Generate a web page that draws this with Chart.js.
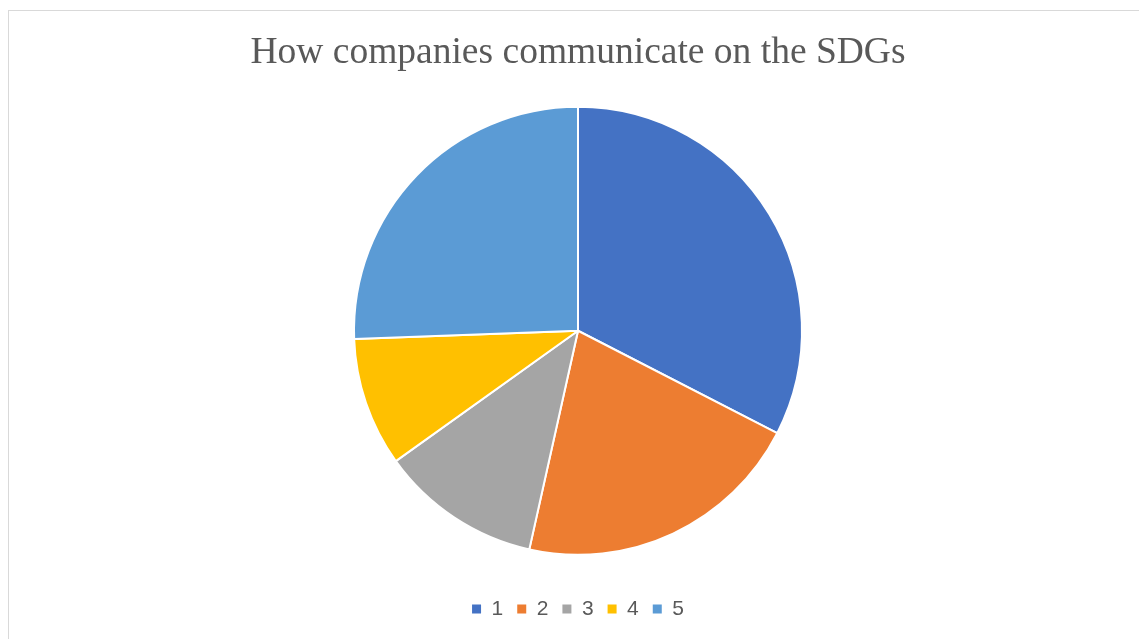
<!DOCTYPE html>
<html>
<head>
<meta charset="utf-8">
<script src="https://cdn.jsdelivr.net/npm/chart.js@4"></script>
<style>
  html, body { margin: 0; padding: 0; background: #fff; overflow: hidden; }
  #frame {
    position: absolute; left: 8px; top: 10px;
    width: 1135px; height: 633px;
    border: 1px solid #d9d9d9; box-sizing: border-box;
  }
  #wrap { position: absolute; left: 0; top: 0; width: 1133px; height: 631px; }
</style>
</head>
<body>
<div id="frame"><div id="wrap"><canvas id="chart-pie"></canvas></div></div>
<script>
const categories = ['1', '2', '3', '4', '5'];
const values     = [14, 9, 5, 4, 11];
const sliceColors = ['#4472C4', '#ED7D31', '#A5A5A5', '#FFC000', '#5B9BD5'];

const defaultLabels = Chart.overrides.pie.plugins.legend.labels.generateLabels;

const ctx = document.getElementById('chart-pie').getContext('2d');
new Chart(ctx, {
  type: 'pie',
  data: {
    labels: categories,
    datasets: [{
      data: values,
      backgroundColor: sliceColors,
      borderColor: '#ffffff',
      borderWidth: 2,
    }],
  },
  options: {
    responsive: true,
    maintainAspectRatio: false,
    animation: false,
    radius: 224,
    layout: { padding: { left: 5, right: 0, top: 0, bottom: 12.5 } },
    plugins: {
      title: {
        display: true,
        text: 'How companies communicate on the SDGs',
        color: '#595959',
        font: { family: "'Liberation Serif', 'Times New Roman', serif", size: 37.5, weight: 'normal', lineHeight: 1.2 },
        padding: { top: 19.5, bottom: 1.5 },
      },
      legend: {
        position: 'bottom',
        labels: {
          color: '#595959',
          font: { family: "'Liberation Sans', Arial, sans-serif", size: 21 },
          boxWidth: 9,
          boxHeight: 9,
          padding: 14,
          generateLabels: chart => defaultLabels(chart).map(l => ({ ...l, lineWidth: 0 })),
        },
      },
      tooltip: { enabled: false },
    },
  },
});
</script>
</body>
</html>
